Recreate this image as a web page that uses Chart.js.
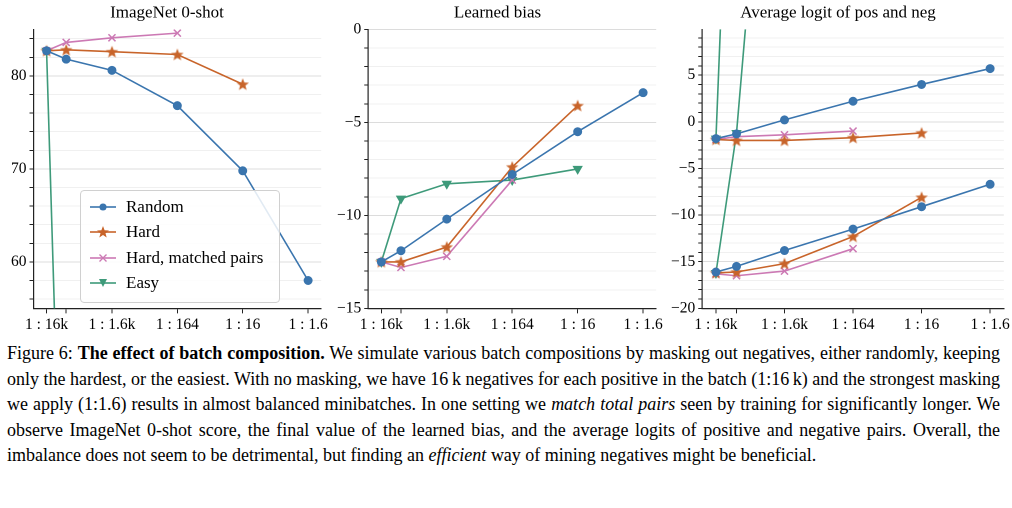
<!DOCTYPE html>
<html><head><meta charset="utf-8">
<script src="https://cdn.jsdelivr.net/npm/chart.js@4"></script>
<style>
body{margin:0;background:#fff;width:1012px;height:508px;position:relative;overflow:hidden;font-family:"Liberation Serif","DejaVu Serif",serif;}
.pan{position:absolute;top:0;height:336px;}
#legend{position:absolute;left:80px;top:190px;width:198px;height:108px;border:1px solid #d0d0d0;border-radius:4px;background:rgba(255,255,255,0.85);font-size:17px;}
#legend div{height:25.5px;display:flex;align-items:center;padding-left:9px;margin-top:0}
#legend svg{margin-right:10px}
#cap{position:absolute;left:7px;top:341px;width:993px;font-size:18px;line-height:25.6px;text-align:justify;color:#000}
</style></head><body>
<div class="pan" style="left:0;width:330px"><canvas id="c1"></canvas></div>
<div class="pan" style="left:330px;width:335px"><canvas id="c2"></canvas></div>
<div class="pan" style="left:662px;width:350px"><canvas id="c3"></canvas></div>
<div id="legend"></div>
<div id="cap">Figure 6: <b>The effect of batch composition.</b> We simulate various batch compositions by masking out negatives, either randomly, keeping only the hardest, or the easiest. With no masking, we have 16&#8201;k negatives for each positive in the batch (1:16&#8201;k) and the strongest masking we apply (1:1.6) results in almost balanced minibatches. In one setting we <i>match total pairs</i> seen by training for significantly longer. We observe ImageNet 0-shot score, the final value of the learned bias, and the average logits of positive and negative pairs. Overall, the imbalance does not seem to be detrimental, but finding an <i>efficient</i> way of mining negatives might be beneficial.</div>
<script>
const xPos = [0, 0.3, 1, 2, 3, 4];
const xLabels = ['1 : 16k', '', '1 : 1.6k', '1 : 164', '1 : 16', '1 : 1.6'];
const seriesNames = ['Random', 'Hard', 'Hard, matched pairs', 'Easy'];

const imagenetRandom = [82.7, 81.8, 80.6, 76.8, 69.8, 58.0];
const imagenetHard = [82.7, 82.8, 82.6, 82.3, 79.1];
const imagenetMatched = [82.7, 83.6, 84.1, 84.6];
const imagenetEasy = [82.7, 13];

const biasRandom = [-12.5, -11.9, -10.2, -7.8, -5.5, -3.4];
const biasHard = [-12.5, -12.5, -11.7, -7.4, -4.1];
const biasMatched = [-12.5, -12.8, -12.2, -8.1];
const biasEasy = [-12.5, -9.1, -8.3, -8.1, -7.5];

const posRandom = [-1.8, -1.3, 0.2, 2.2, 4.0, 5.7];
const negRandom = [-16.1, -15.5, -13.8, -11.5, -9.1, -6.7];
const posHard = [-1.9, -2.0, -2.0, -1.7, -1.2];
const negHard = [-16.2, -16.1, -15.2, -12.3, -8.1];
const posMatched = [-1.9, -1.6, -1.4, -1.0];
const negMatched = [-16.3, -16.5, -16.0, -13.6];
const posEasy = [-1.8, 53];
const negEasy = [-16.2, -1.2, 59];

const colors = ['#3a75ae', '#c8642a', '#cc79b4', '#3e9a7a'];
function starImg(col){
  const c=document.createElement('canvas');c.width=14;c.height=14;const g=c.getContext('2d');
  g.fillStyle=col;g.beginPath();
  for(let i=0;i<10;i++){const r=i%2?2.8:6.5;const a=-Math.PI/2+i*Math.PI/5;g.lineTo(7+r*Math.cos(a),7.5+r*Math.sin(a));}
  g.closePath();g.fill();return c;
}
const styles = [
  {pointStyle:'circle', pointRadius:4, pointRotation:0},
  {pointStyle:starImg(colors[1]), pointRadius:5, pointRotation:0},
  {pointStyle:'crossRot', pointRadius:5, pointRotation:0},
  {pointStyle:'triangle', pointRadius:5, pointRotation:180},
];
const FONT = '"Liberation Serif", serif';

function ds(vals, i){
  return Object.assign({
    data: vals.map((v,k)=>({x:xPos[k], y:v})),
    borderColor: colors[i], backgroundColor: colors[i], borderWidth:1.6,
    pointBorderWidth: i===2?1.5:1, label: seriesNames[i]
  }, styles[i]);
}

function make(id, title, datasets, ymin, ymax, major, minor, padL){
  new Chart(document.getElementById(id), {
    type:'line',
    data:{datasets},
    options:{
      responsive:false, animation:false, devicePixelRatio:2,
      layout:{padding:{left:padL, right:4, top:0, bottom:0}},
      plugins:{legend:{display:false},tooltip:{enabled:false},
        title:{display:true,text:title,color:'#000',font:{family:FONT,size:17,weight:'normal'},padding:{top:3,bottom:6}}},
      scales:{
        x:{type:'linear', min:-0.2, max:4.2,
          afterBuildTicks:s=>{s.ticks = xPos.map(v=>({value:v}));},
          ticks:{color:'#000',font:{family:FONT,size:15.5},maxRotation:0,autoSkip:false,padding:2,
            callback:(v,i)=>xLabels[i]},
          grid:{drawOnChartArea:false,tickLength:5,tickColor:'#222'},
          border:{color:'#222',width:1.2}},
        y:{min:ymin, max:ymax,
          afterBuildTicks:s=>{const t=[];for(let v=Math.ceil(ymin/minor)*minor;v<=ymax+1e-9;v+=minor)t.push({value:+v.toFixed(3)});s.ticks=t;},
          ticks:{color:'#000',font:{family:FONT,size:15.5},autoSkip:false,padding:3,
            callback:v=>(Math.abs(v/major-Math.round(v/major))<1e-6)?String(v).replace('-','\u2212'):''},
          grid:{color:c=>(Math.abs(c.tick.value/major-Math.round(c.tick.value/major))<1e-6)?'#dcdcdc':'#f0f0f0',
            lineWidth:1,tickLength:4,tickColor:'#222'},
          border:{color:'#222',width:1.2}}
      }
    }
  });
}
const sizes = [['c1',330],['c2',335],['c3',350]];
sizes.forEach(([id,w])=>{const c=document.getElementById(id);c.width=w;c.height=336;c.style.width=w+'px';c.style.height='336px';});

make('c1','ImageNet 0-shot',[ds(imagenetRandom,0),ds(imagenetHard,1),ds(imagenetMatched,2),ds(imagenetEasy,3)],55,85,10,2,8);
make('c2','Learned bias',[ds(biasRandom,0),ds(biasHard,1),ds(biasMatched,2),ds(biasEasy,3)],-15,0,5,1,4);
make('c3','Average logit of pos and neg',[ds(posRandom,0),ds(negRandom,0),ds(posHard,1),ds(negHard,1),ds(posMatched,2),ds(negMatched,2),ds(posEasy,3),ds(negEasy,3)],-20,9.9,5,1,6);

const markers = [
  '<circle cx="13" cy="7" r="3.5" fill="C"/>',
  '<polygon points="13,1 14.6,5.3 19,5.5 15.5,8.3 16.7,12.5 13,10 9.3,12.5 10.5,8.3 7,5.5 11.4,5.3" fill="C"/>',
  '<path d="M9.5,3.5 L16.5,10.5 M16.5,3.5 L9.5,10.5" stroke="C" stroke-width="1.4"/>',
  '<polygon points="9,3 17,3 13,11" fill="C"/>'
];
document.getElementById('legend').innerHTML = seriesNames.map((n,i)=>
  '<div><svg width="26" height="14"><line x1="0" y1="7" x2="26" y2="7" stroke="'+colors[i]+'" stroke-width="1.6"/>'+markers[i].replace(/C/g,colors[i])+'</svg>'+n+'</div>').join('');
document.querySelector('#legend').style.paddingTop='3px';
</script>
</body></html>
